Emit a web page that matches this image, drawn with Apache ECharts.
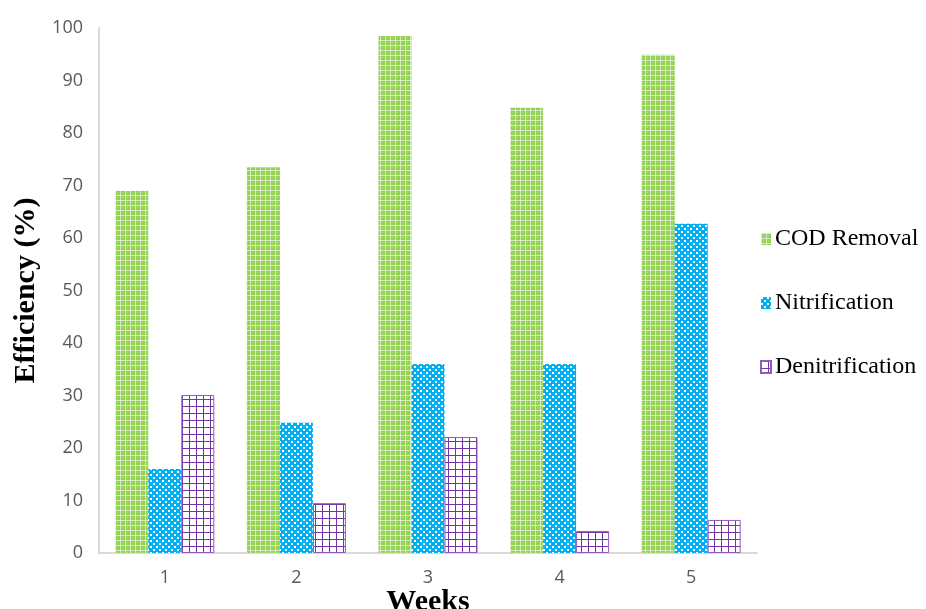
<!DOCTYPE html>
<html>
<head>
<meta charset="utf-8">
<script src="https://cdn.jsdelivr.net/npm/echarts@6/dist/echarts.min.js"></script>
<style>
  html, body { margin: 0; padding: 0; background: #fff; }
  #chart { width: 926px; height: 609px; }
</style>
</head>
<body>
<div id="chart"></div>
<script>
// Weekly treatment efficiencies (%)
const weeks = ['1', '2', '3', '4', '5'];
const codRemoval = [69, 73.5, 98.5, 84.8, 94.9];
const nitrification = [16, 24.8, 36, 36, 62.7];
const denitrification = [30.1, 9.5, 22.1, 4.2, 6.3];
const yTicks = [0, 10, 20, 30, 40, 50, 60, 70, 80, 90, 100];

// Tile helpers for the hatched fills
function tile(w, h, draw) {
  const c = document.createElement('canvas');
  c.width = w; c.height = h;
  draw(c.getContext('2d'));
  return c;
}
const greenTile = tile(5, 5, g => {
  g.fillStyle = '#93D152'; g.fillRect(0, 0, 5, 5);
  g.fillStyle = '#D3ECB6'; g.fillRect(0, 0, 1, 5); g.fillRect(0, 0, 5, 1);
  g.fillStyle = '#EEF8E4'; g.fillRect(0, 0, 1, 1);
  g.fillStyle = '#B9DF90'; g.fillRect(2, 2, 1, 1);
});
const blueTile = tile(6, 6, g => {
  g.fillStyle = '#00B0F0'; g.fillRect(0, 0, 6, 6);
  g.fillStyle = '#FFFFFF'; g.fillRect(0, 0, 2, 2); g.fillRect(3, 3, 2, 2);
});
const purpleTile = tile(7, 7, g => {
  g.fillStyle = '#FFFFFF'; g.fillRect(0, 0, 7, 7);
  g.fillStyle = '#7535A8'; g.fillRect(0, 0, 1, 7); g.fillRect(0, 0, 7, 1);
});

const chart = echarts.init(document.getElementById('chart'), null, { renderer: 'canvas' });
chart.setOption({
  animation: false,
  backgroundColor: '#ffffff',
  grid: { left: 99, right: 169, top: 28, bottom: 56, outerBoundsMode: 'none', containLabel: false },
  // x-axis title sits partly below the canvas edge
  graphic: [{
    type: 'text',
    x: 428,
    y: 587,
    silent: true,
    style: {
      text: 'Weeks',
      align: 'center',
      verticalAlign: 'top',
      fontFamily: 'Liberation Serif',
      fontWeight: 'bold',
      fontSize: 30,
      fill: '#000'
    }
  }],
  legend: {
    orient: 'vertical',
    left: 755,
    top: 222,
    itemWidth: 10,
    itemHeight: 12,
    itemGap: 40,
    icon: 'rect',
    textStyle: { fontFamily: 'Liberation Serif', fontSize: 24, color: '#000', padding: [0, 0, 0, -1] },
    data: ['COD Removal', 'Nitrification', 'Denitrification']
  },
  xAxis: {
    type: 'category',
    data: weeks,
    axisLine: { lineStyle: { color: '#D9D9D9', width: 2 } },
    axisTick: { show: false },
    axisLabel: { color: '#595959', fontFamily: 'Open Sans', fontSize: 18, margin: 16 }
  },
  yAxis: {
    type: 'value',
    min: 0,
    max: 100,
    interval: 10,
    name: 'Efficiency (%)',
    nameLocation: 'middle',
    nameGap: 55,
    nameTextStyle: { fontFamily: 'Liberation Serif', fontWeight: 'bold', fontSize: 30, color: '#000' },
    axisLine: { show: true, lineStyle: { color: '#D9D9D9', width: 2 } },
    axisTick: { show: false },
    splitLine: { show: false },
    axisLabel: {
      color: '#595959', fontFamily: 'Open Sans', fontSize: 18, margin: 16,
      formatter: v => (yTicks.includes(v) ? String(v) : '')
    }
  },
  series: [
    {
      name: 'COD Removal', type: 'bar', data: codRemoval,
      barWidth: 33, barGap: '0%',
      itemStyle: { color: { image: greenTile, repeat: 'repeat' } }
    },
    {
      name: 'Nitrification', type: 'bar', data: nitrification,
      barWidth: 33, barGap: '0%',
      itemStyle: { color: { image: blueTile, repeat: 'repeat' } }
    },
    {
      name: 'Denitrification', type: 'bar', data: denitrification,
      barWidth: 33, barGap: '0%',
      itemStyle: { color: { image: purpleTile, repeat: 'repeat' }, borderColor: '#8F5BC0', borderWidth: 1 }
    }
  ]
});
</script>
</body>
</html>
